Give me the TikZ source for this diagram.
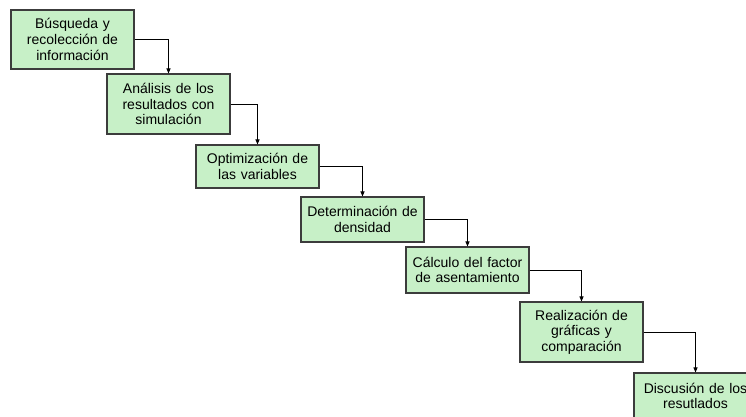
\documentclass[tikz,border=0pt]{standalone}
\usepackage{fontspec}
\setmainfont{Liberation Sans}
\usetikzlibrary{arrows.meta}
\definecolor{boxgreen}{RGB}{199,240,199}
\definecolor{boxline}{RGB}{60,60,60}
\begin{document}
\begin{tikzpicture}[x=1pt,y=-1pt,
  box/.style={draw=boxline, fill=boxgreen, line width=1.1pt, text width=118pt, align=center,
    minimum width=123pt, inner sep=0pt, font=\fontsize{14}{15.6}\selectfont},
  link/.style={-{Triangle[length=5pt,width=4pt]}, line width=0.9pt, draw=black}]
\useasboundingbox (0,0) rectangle (746,416);
\fill[white] (0,0) rectangle (746,416);
\begin{scope}
\clip (0,0) rectangle (746,416);
\node[box, minimum height=59pt] (b1) at (72.5,39.5) {Búsqueda y\\recolección de\\información};
\node[box, minimum height=60pt] (b2) at (168.5,104) {Análisis de los\\resultados con\\simulación};
\node[box, minimum height=43pt] (b3) at (257.5,166.5) {Optimización de\\las variables};
\node[box, minimum height=45pt] (b4) at (362.5,219.5) {Determinación de\\densidad};
\node[box, minimum height=46pt] (b5) at (467.5,270) {Cálculo del factor\\de asentamiento};
\node[box, minimum height=60pt] (b6) at (581.5,332) {Realización de\\gráficas y\\comparación};
\node[box, minimum height=46pt] (b7) at (695.5,396) {Discusión de los\\resutlados};
\draw[link] (b1.east) -| (b2.north);
\draw[link] (b2.east) -| (b3.north);
\draw[link] (b3.east) -| (b4.north);
\draw[link] (b4.east) -| (b5.north);
\draw[link] (b5.east) -| (b6.north);
\draw[link] (b6.east) -| (b7.north);
\end{scope}
\end{tikzpicture}
\end{document}
